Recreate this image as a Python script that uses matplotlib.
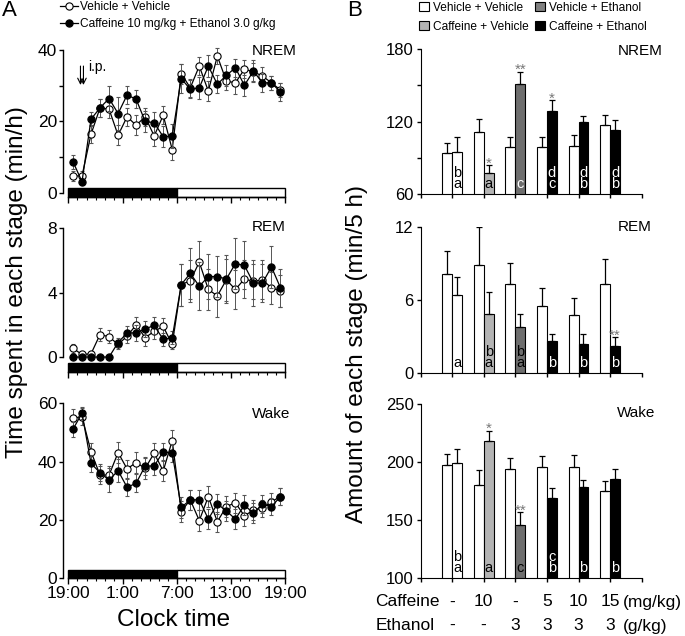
import matplotlib
matplotlib.use('Agg')
import matplotlib.pyplot as plt
import numpy as np
from matplotlib.patches import Rectangle, Patch

plt.rcParams['font.family'] = ['Liberation Sans', 'DejaVu Sans']

# ---------------- data: panel A (hourly, 19:00 -> 19:00) ----------------
hours = np.arange(24) + 0.5

nrem_veh = [4.7, 4.7, 16.4, 23.8, 23.4, 16.1, 21.3, 18.9, 21.3, 15.9, 21.7, 12.1,
            33.4, 29.4, 35.5, 28.5, 38.3, 31.3, 30.8, 34.6, 33.9, 32.7, 30.8, 28.8]
nrem_veh_err = [1.5, 1.5, 2.5, 2.5, 2.5, 2.8, 2.5, 2.8, 2.5, 2.8, 2.5, 3.0,
                2.8, 2.5, 2.5, 2.8, 2.2, 2.5, 3.0, 2.5, 2.5, 2.5, 2.0, 2.0]
nrem_caf = [8.7, 3.1, 20.6, 23.8, 26.4, 22.2, 27.4, 26.2, 20.0, 19.6, 15.7, 15.9,
            32.0, 29.0, 29.4, 35.5, 30.4, 32.9, 35.0, 30.1, 34.1, 30.8, 30.8, 28.2]
nrem_caf_err = [2.0, 1.0, 2.0, 2.5, 3.5, 4.5, 2.5, 2.5, 3.0, 3.0, 3.0, 3.5,
                4.0, 2.5, 3.0, 3.0, 2.5, 3.0, 2.5, 3.0, 3.0, 2.5, 2.0, 2.5]

rem_veh = [0.54, 0.16, 0.2, 1.4, 1.26, 0.78, 1.3, 2.0, 1.2, 1.6, 1.9, 0.78,
           4.5, 4.74, 5.9, 4.2, 3.8, 4.8, 4.2, 4.85, 4.7, 4.8, 4.3, 4.1]
rem_veh_err = [0.3, 0.1, 0.1, 0.4, 0.4, 0.3, 0.4, 0.5, 0.5, 0.5, 0.5, 0.3,
               1.3, 1.3, 1.3, 1.3, 1.3, 1.3, 1.2, 1.2, 1.1, 1.2, 1.0, 1.0]
rem_caf = [0.0, 0.0, 0.0, 0.0, 0.0, 0.9, 1.5, 1.5, 1.75, 1.96, 1.1, 1.2,
           4.5, 5.2, 4.4, 5.0, 5.0, 4.85, 5.8, 5.7, 4.6, 4.6, 5.6, 4.3]
rem_caf_err = [0.0, 0.0, 0.0, 0.0, 0.0, 0.3, 0.4, 0.5, 0.5, 0.5, 0.4, 0.4,
               1.3, 1.6, 1.5, 1.4, 1.3, 1.5, 1.6, 1.5, 1.4, 1.2, 1.3, 1.2]

wake_veh = [54.9, 55.4, 43.4, 35.4, 35.4, 43.1, 37.5, 39.7, 37.7, 42.9, 36.8, 47.2,
            22.9, 26.9, 19.8, 28.0, 19.4, 24.6, 25.9, 21.4, 23.4, 24.0, 26.3, 28.0]
wake_veh_err = [3, 3, 3, 3, 3, 3.5, 3, 3.5, 3.5, 3.5, 3.5, 3.5,
                3.5, 3.5, 3.5, 3.5, 3.5, 3.5, 3.5, 3.5, 3.5, 3, 3, 3]
wake_caf = [51.1, 56.6, 39.4, 36.2, 33.7, 36.9, 31.2, 32.6, 38.5, 38.5, 43.4, 42.9,
            24.3, 26.9, 26.9, 20.3, 25.5, 23.1, 20.3, 25.1, 22.3, 25.4, 24.6, 28.0]
wake_caf_err = [2.5, 2, 3, 3, 4, 4, 3, 3, 3, 3, 3, 3,
                3.5, 3.5, 3.5, 3.5, 3.5, 3.5, 3.5, 3.5, 3.5, 3, 3, 3]

time_ticks = [0, 6, 12, 18, 24]
time_labels = ["19:00", "1:00", "7:00", "13:00", "19:00"]

# ---------------- data: panel B (6 dose groups) ----------------
caffeine_doses = ["-", "10", "-", "5", "10", "15"]
ethanol_doses = ["-", "-", "3", "3", "3", "3"]
treat_colors = ["white", "#b4b4b4", "#6e6e6e", "black", "black", "black"]

nremB_ctrl = [94.3, 111.4, 99.3, 98.7, 99.5, 117.5]
nremB_ctrl_err = [7.7, 10.5, 8.3, 8.3, 9.4, 7.7]
nremB_trt = [94.8, 77.1, 151.0, 128.8, 119.4, 113.1]
nremB_trt_err = [12.2, 6.7, 10.5, 8.9, 5.6, 8.0]
nremB_letters = [["a", "b"], ["a"], ["c"], ["c", "d"], ["b", "d"], ["b", "d"]]
nremB_stars = ["", "*", "**", "*", "", ""]

remB_ctrl = [8.13, 8.86, 7.28, 5.5, 4.8, 7.34]
remB_ctrl_err = [1.87, 3.14, 1.72, 1.5, 1.4, 2.0]
remB_trt = [6.4, 4.88, 3.82, 2.62, 2.4, 2.2]
remB_trt_err = [1.5, 1.77, 1.01, 0.63, 0.8, 0.75]
remB_letters = [["a"], ["a", "b"], ["a", "b"], ["b"], ["b"], ["b"]]
remB_stars = ["", "", "", "", "", "**"]

wakeB_ctrl = [197.8, 179.9, 193.7, 195.8, 195.8, 174.7]
wakeB_ctrl_err = [9.5, 13.3, 9.6, 9.8, 10.3, 8.9]
wakeB_trt = [198.9, 218.5, 145.6, 168.9, 178.5, 185.4]
wakeB_trt_err = [12.4, 8.4, 10.9, 9.0, 6.3, 8.3]
wakeB_letters = [["a", "b"], ["a"], ["c"], ["b", "c"], ["b"], ["b"]]
wakeB_stars = ["", "*", "**", "", "", ""]

W, H = 685, 636
fig = plt.figure(figsize=(W / 100, H / 100), dpi=100)


def px_axes(l, t, r, b):
    return fig.add_axes([l / W, 1 - b / H, (r - l) / W, (b - t) / H])


def ftext(x, y, s, **kw):
    return fig.text(x / W, 1 - y / H, s, **kw)


# ---------------- Panel A ----------------
left_specs = [
    (nrem_veh, nrem_veh_err, nrem_caf, nrem_caf_err, (-1.2, 40), 50, 197,
     [0, 20, 40], [10, 30], (-1.2, 1.3), False),
    (rem_veh, rem_veh_err, rem_caf, rem_caf_err, (-0.93, 8), 228.3, 372,
     [0, 4, 8], [], (-0.93, -0.37), False),
    (wake_veh, wake_veh_err, wake_caf, wake_caf_err, (0, 60), 403.3, 578.3,
     [0, 20, 40, 60], [], (0, 2.85), True),
]

handles_A = []
for (veh, veh_err, caf, caf_err, ylim, top, bot, yt, ymt, barlim, showlab) in left_specs:
    ax = px_axes(62.6, top, 285, bot)
    ax.set_xlim(-0.65, 24)
    ax.set_ylim(*ylim)
    for s in ("top", "right"):
        ax.spines[s].set_visible(False)
    ax.spines["left"].set_bounds(0, ylim[1])
    ax.spines["bottom"].set_bounds(0, 24)
    ax.spines["left"].set_linewidth(1.0)
    ax.spines["bottom"].set_linewidth(1.0)
    ax.set_yticks(yt)
    ax.set_yticks(ymt, minor=True)
    ax.set_yticklabels([str(v) for v in yt], fontsize=12.5)
    ax.tick_params(axis="y", which="both", direction="out", length=3, width=1, pad=1)
    ax.set_xticks(time_ticks)
    ax.set_xticks(np.arange(25), minor=True)
    ax.tick_params(axis="x", which="major", direction="out", length=4.5, width=1)
    ax.tick_params(axis="x", which="minor", direction="out", length=2.5, width=0.8)
    if showlab:
        ax.set_xticklabels(time_labels, fontsize=12.5)
        ax.tick_params(axis="x", which="major", pad=1)
    else:
        ax.set_xticklabels([])
    ax.add_patch(Rectangle((0, barlim[0]), 12, barlim[1] - barlim[0], fc="black",
                           ec="black", lw=1, clip_on=False, zorder=2))
    ax.add_patch(Rectangle((12, barlim[0]), 12, barlim[1] - barlim[0], fc="white",
                           ec="black", lw=1, clip_on=False, zorder=2))
    e1 = ax.errorbar(hours, veh, yerr=veh_err, fmt="-o", color="black", mfc="white",
                     mec="black", ms=5.2, mew=0.8, lw=0.9, ecolor="#555555",
                     elinewidth=0.7, capsize=1.3, capthick=0.7, zorder=3)
    e2 = ax.errorbar(hours, caf, yerr=caf_err, fmt="-o", color="black", mfc="black",
                     mec="black", ms=5.2, mew=0.8, lw=0.9, ecolor="#555555",
                     elinewidth=0.7, capsize=1.3, capthick=0.7, zorder=4)
    for cont in (e1, e2):
        for art in cont.get_children():
            art.set_clip_on(False)
    if not handles_A:
        handles_A = [e1.lines[0], e2.lines[0]]
        ax.annotate("", xy=(1.33, 30.2), xytext=(1.33, 35.5),
                    arrowprops=dict(arrowstyle="->", lw=0.8, color="black",
                                    shrinkA=0, shrinkB=0))
        ax.annotate("", xy=(1.66, 30.2), xytext=(1.66, 35.5),
                    arrowprops=dict(arrowstyle="->", lw=0.8, color="black",
                                    shrinkA=0, shrinkB=0))
        ax.text(2.2, 35.3, "i.p.", fontsize=10, va="center", ha="left")

fig.legend(handles_A, ["Vehicle + Vehicle", "Caffeine 10 mg/kg + Ethanol 3.0 g/kg"],
           loc="upper left", bbox_to_anchor=(60 / W, 1 - 1 / H), frameon=False,
           fontsize=8.6, handlelength=1.5, handletextpad=0.15, labelspacing=0.45,
           borderaxespad=0, borderpad=0)

ftext(274, 51, "NREM", fontsize=11, ha="center", va="center")
ftext(269, 227, "REM", fontsize=11, ha="center", va="center")
ftext(271.5, 414, "Wake", fontsize=11, ha="center", va="center")
ftext(174, 620, "Clock time", fontsize=17.5, ha="center", va="center")
ftext(17, 282, "Time spent in each stage (min/h)", fontsize=17.5, rotation=90,
      ha="center", va="center")
ftext(9, 11, "A", fontsize=16, ha="center", va="center")
ftext(355, 11, "B", fontsize=16, ha="center", va="center")

# ---------------- Panel B ----------------
xg = np.arange(1, 7)
bw = 0.316
right_specs = [
    (nremB_ctrl, nremB_ctrl_err, nremB_trt, nremB_trt_err, nremB_letters, nremB_stars,
     (60, 180), [60, 120, 180], [90, 150], 49.3, 194, ["black", "black", "white", "white", "white", "white"]),
    (remB_ctrl, remB_ctrl_err, remB_trt, remB_trt_err, remB_letters, remB_stars,
     (0, 12), [0, 6, 12], [], 226.7, 373.3, ["black", "black", "black", "white", "white", "white"]),
    (wakeB_ctrl, wakeB_ctrl_err, wakeB_trt, wakeB_trt_err, wakeB_letters, wakeB_stars,
     (100, 250), [100, 150, 200, 250], [], 404.3, 577.7, ["black", "black", "black", "white", "white", "white"]),
]

for (ctrl, ctrl_err, trt, trt_err, letters, stars, ylim, yt, ymt, top, bot, lcol) in right_specs:
    ax = px_axes(420.5, top, 641.7, bot)
    ax.set_xlim(0, 7)
    ax.set_ylim(*ylim)
    for s in ("top", "right"):
        ax.spines[s].set_visible(False)
    ax.set_xticks(np.arange(8))
    ax.set_xticklabels([])
    ax.set_yticks(yt)
    ax.set_yticks(ymt, minor=True)
    ax.set_yticklabels([str(v) for v in yt], fontsize=12)
    ax.tick_params(axis="both", which="both", direction="out", length=3, width=1, pad=2)
    ax.bar(xg - bw, ctrl, width=bw, align="edge", color="white", edgecolor="black",
           lw=0.8, zorder=2)
    ax.bar(xg, trt, width=bw, align="edge", color=treat_colors, edgecolor="black",
           lw=0.8, zorder=2)
    zeros = np.zeros(6)
    ax.errorbar(xg - bw / 2, ctrl, yerr=[zeros, ctrl_err], fmt="none", ecolor="black",
                elinewidth=0.9, capsize=2, capthick=0.9, zorder=3)
    ax.errorbar(xg + bw / 2, trt, yerr=[zeros, trt_err], fmt="none", ecolor="black",
                elinewidth=0.9, capsize=2, capthick=0.9, zorder=3)
    for i in range(6):
        for j, let in enumerate(letters[i]):
            ax.annotate(let, xy=(xg[i] + bw / 2, ylim[0]), xytext=(0, 7.2 + 8.0 * j),
                        textcoords="offset points", ha="center", va="center",
                        fontsize=10.5, color=lcol[i], zorder=4)
        if stars[i]:
            ax.annotate(stars[i], xy=(xg[i] + bw / 2, trt[i] + trt_err[i]),
                        xytext=(0, -1.5), textcoords="offset points", ha="center",
                        va="baseline", fontsize=11, color="#777777", zorder=4)

ftext(640, 51, "NREM", fontsize=11, ha="center", va="center")
ftext(635, 227, "REM", fontsize=11, ha="center", va="center")
ftext(636.5, 413, "Wake", fontsize=11, ha="center", va="center")
ftext(357, 354, "Amount of each stage (min/5 h)", fontsize=17.5, rotation=90,
      ha="center", va="center")

legend_B = [Patch(fc="white", ec="black", lw=0.8), Patch(fc="#b4b4b4", ec="black", lw=0.8),
            Patch(fc="#808080", ec="black", lw=0.8), Patch(fc="black", ec="black", lw=0.8)]
fig.legend(legend_B, ["Vehicle + Vehicle", "Caffeine + Vehicle", "Vehicle + Ethanol",
                      "Caffeine + Ethanol"], ncol=2, loc="upper left",
           bbox_to_anchor=(419 / W, 1 - 2 / H), frameon=False, fontsize=8.6,
           handlelength=0.8, handleheight=0.8, handletextpad=0.4, columnspacing=0.5,
           labelspacing=0.55, borderaxespad=0, borderpad=0)

# dose rows
xpix = [451.7, 483.3, 515, 546.7, 578.3, 610]
for xp, c, e in zip(xpix, caffeine_doses, ethanol_doses):
    ftext(xp, 602, c, fontsize=12.5, ha="center", va="center")
    ftext(xp, 625, e, fontsize=12.5, ha="center", va="center")
ftext(375, 602, "Caffeine", fontsize=12.5, ha="left", va="center")
ftext(376, 625, "Ethanol", fontsize=12.5, ha="left", va="center")
ftext(623, 603, "(mg/kg)", fontsize=12.5, ha="left", va="center")
ftext(623, 626, "(g/kg)", fontsize=12.5, ha="left", va="center")

fig.savefig("out.png", dpi=100)
